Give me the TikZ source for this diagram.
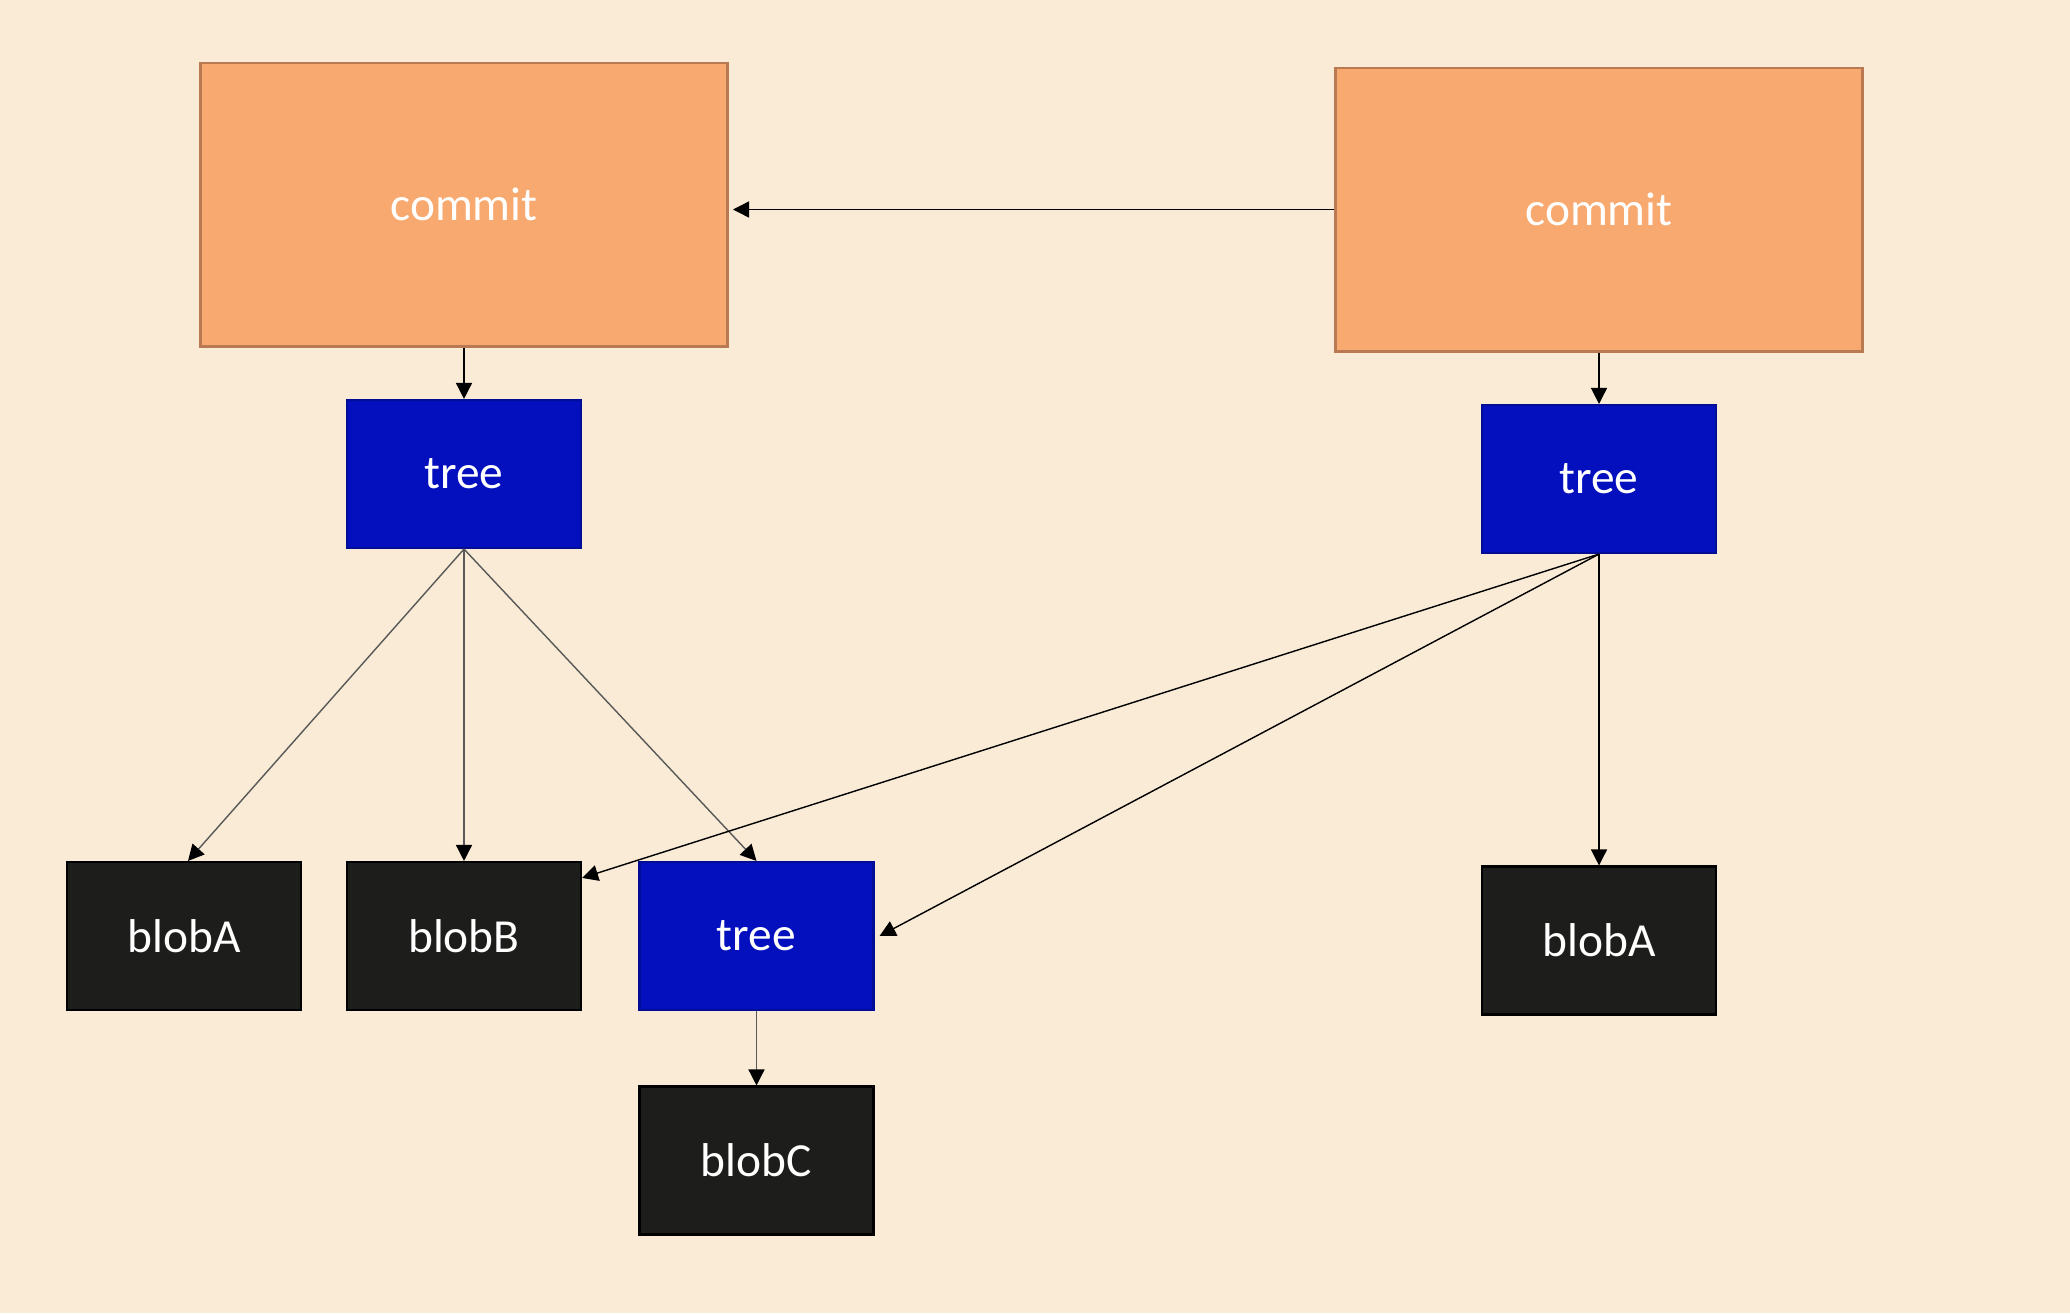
\documentclass[tikz,border=0pt]{standalone}
\usepackage{fontspec}
\setmainfont{Carlito}
\usetikzlibrary{arrows.meta}
\definecolor{paper}{HTML}{F9EBD6}
\definecolor{commitfill}{HTML}{F8A970}
\definecolor{commitline}{HTML}{B97A53}
\definecolor{treefill}{HTML}{040FBE}
\definecolor{treeline}{HTML}{020D96}
\definecolor{blobfill}{HTML}{1D1D1B}
\definecolor{greyline}{HTML}{595959}

\begin{document}
\begin{tikzpicture}[
    commitbox/.style={draw=commitline, line width=0.85pt, fill=commitfill, minimum width=5.27cm, minimum height=2.83cm},
    treebox/.style={draw=treeline, line width=0.6pt, fill=treefill, minimum width=2.34cm, minimum height=1.48cm},
    blobbox/.style={draw=black, line width=0.6pt, fill=blobfill, minimum width=2.34cm, minimum height=1.48cm},
    every node/.append style={text=white, font=\fontsize{13.5}{16}\selectfont, inner sep=0pt},
    link/.style={-{Triangle[length=0.16cm, width=0.16cm, color=black, fill=black]}, line width=0.4pt},
  ]
    \fill[paper] (0,0) rectangle (20.7,-13.13);
    \useasboundingbox (0,0) rectangle (20.7,-13.13);
    \node[commitbox] (C1) at ( 4.64,  -2.045) {commit};
    \node[commitbox] (C2) at (15.99,  -2.095) {commit};
    \node[treebox]   (T1) at ( 4.64,  -4.74)  {tree};
    \node[treebox]   (T2) at (15.99,  -4.79)  {tree};
    \node[blobbox]   (bA) at ( 1.84,  -9.36)  {blobA};
    \node[blobbox]   (bB) at ( 4.64,  -9.36)  {blobB};
    \node[treebox]   (T3) at ( 7.565, -9.36)  {tree};
    \node[blobbox]   (bA2) at (15.99, -9.405) {blobA};
    \node[blobbox]   (bC) at ( 7.565, -11.605) {blobC};
    \draw (C2.west) edge[link] ([xshift=0.04cm]C2.west -| C1.east);
    \draw (C1.south) edge[link] (T1.north);
    \draw (C2.south) edge[link] (T2.north);
    \draw[greyline] (T1.south) edge[link] ([xshift=0.04cm]bA.north);
    \draw[greyline] (T1.south) edge[link] (bB.north);
    \draw[greyline] (T1.south) edge[link] (T3.north);
    \draw (T2.south) edge[link] ([yshift=-0.17cm]bB.north east);
    \draw (T2.south) edge[link] ([xshift=0.05cm]T3.east);
    \draw (T2.south) edge[link] (bA2.north);
    \draw[greyline] (T3.south) edge[link] (bC.north);
  \end{tikzpicture}
\end{document}
